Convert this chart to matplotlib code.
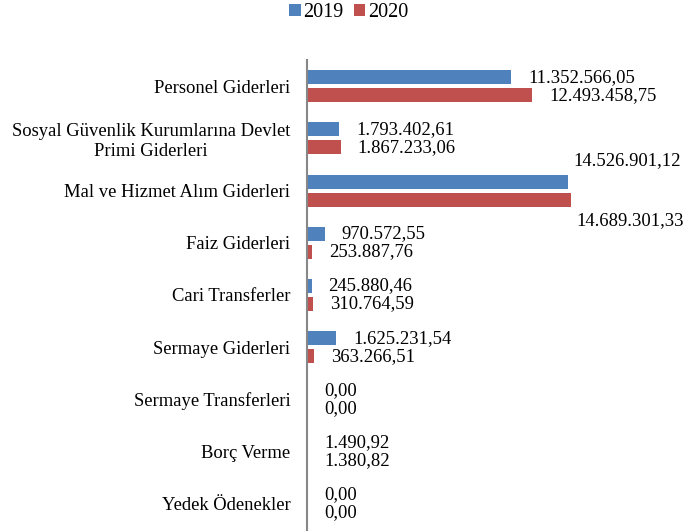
import matplotlib.pyplot as plt
import numpy as np

categories = [
    "Personel Giderleri",
    "Sosyal Güvenlik Kurumlarına Devlet\nPrimi Giderleri",
    "Mal ve Hizmet Alım Giderleri",
    "Faiz Giderleri",
    "Cari Transferler",
    "Sermaye Giderleri",
    "Sermaye Transferleri",
    "Borç Verme",
    "Yedek Ödenekler",
]
values_2019 = [11352566.05, 1793402.61, 14526901.12, 970572.55, 245880.46,
               1625231.54, 0.00, 1490.92, 0.00]
values_2020 = [12493458.75, 1867233.06, 14689301.33, 253887.76, 310764.59,
               363266.51, 0.00, 1380.82, 0.00]


def tr_format(v):
    # turkish number format: 1.234.567,89
    s = f"{v:,.2f}"
    return s.replace(",", "X").replace(".", ",").replace("X", ".")


plt.rcParams['font.family'] = ['Liberation Serif', 'DejaVu Serif']

fig = plt.figure(figsize=(6.84, 5.32), dpi=100)
ax = fig.add_axes([0.449, 0.004, 0.526, 0.883])

y = np.arange(len(categories))
bar_h = 0.27
off = 0.172
blue = "#4F81BD"
red = "#C0504D"
fs = 13.4

ax.barh(y - off, values_2019, height=bar_h, color=blue, label="2019")
ax.barh(y + off, values_2020, height=bar_h, color=red, label="2020")

for i in range(len(categories)):
    for val, yy, is_red in [(values_2019[i], y[i] - off, False), (values_2020[i], y[i] + off, True)]:
        if val > 14e6:
            # labels of the longest bars sit above / below the bar
            dy = -21 if is_red else 21
            ax.annotate(tr_format(val), xy=(val, yy), xytext=(5, dy),
                        textcoords='offset pixels', ha='left', va='center',
                        fontsize=fs)
        else:
            ax.annotate(tr_format(val), xy=(val, yy), xytext=(17, 0),
                        textcoords='offset pixels', ha='left', va='center',
                        fontsize=fs)

ax.set_xlim(0, 20e6)
ax.set_ylim(len(categories) - 0.5, -0.5)
ax.set_yticks(y)
ax.set_yticklabels(categories, fontsize=fs, multialignment='center')
ax.tick_params(axis='y', length=0, pad=12)
ax.set_xticks([])
for side in ['top', 'right', 'bottom']:
    ax.spines[side].set_visible(False)
ax.spines['left'].set_color('#878787')
ax.spines['left'].set_linewidth(1.5)

fig.legend(loc='center', bbox_to_anchor=(0.51, 0.977), ncol=2, frameon=False,
           fontsize=14.5, handlelength=0.55, handleheight=0.55,
           handletextpad=0.15, columnspacing=0.5)

fig.savefig("out.png", dpi=100)
